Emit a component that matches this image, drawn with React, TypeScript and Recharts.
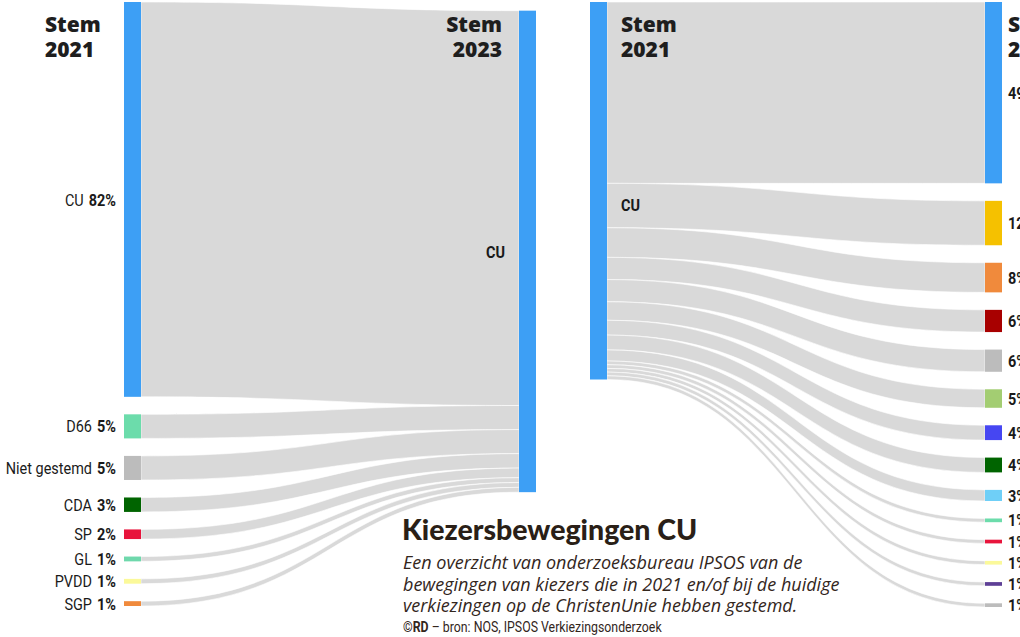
import React from "react";
import { Sankey } from "recharts";

// Stem 2021 -> CU in 2023 (left)
const herkomstPartijen = ["CU", "D66", "Niet gestemd", "CDA", "SP", "GL", "PVDD", "SGP"];
const herkomstPct = [82, 5, 5, 3, 2, 1, 1, 1];
const herkomstKleur = ["#3d9ff5", "#6cdcab", "#bcbcbc", "#006400", "#e8143c", "#6fd8ac", "#fbf99a", "#f08a3c"];

// CU 2021 -> Stem 2023 (right)
const bestemmingPartijen = ["CU", "NSC", "SGP", "GL-PvdA", "Niet gestemd", "BBB", "VVD", "CDA", "PVV", "D66", "SP", "PvdD", "Volt", "Overig"];
const bestemmingPct = [49, 12, 8, 6, 6, 5, 4, 4, 3, 1, 1, 1, 1, 1];
const bestemmingKleur = ["#3d9ff5", "#f5c100", "#f08a3c", "#a80000", "#bcbcbc", "#a3cd72", "#4646f2", "#006400", "#6fcff7", "#6cdcab", "#e8143c", "#fbf99a", "#5e3f96", "#bcbcbc"];

const FLOW = "#d9d9d9";
const NARROW = "Roboto, sans-serif";
const HEAD_FONT = "'Open Sans', sans-serif";

const linksData = {
  nodes: [...herkomstPartijen.map((name) => ({ name })), { name: "CU" }],
  links: herkomstPct.map((value, i) => ({ source: i, target: herkomstPartijen.length, value })),
};

const rechtsData = {
  nodes: [{ name: "CU" }, ...bestemmingPartijen.map((name) => ({ name }))],
  links: bestemmingPct.map((value, i) => ({ source: 0, target: i + 1, value })),
};

function Flow(props: any) {
  const { sourceX, targetX, sourceY, targetY, sourceControlX, targetControlX, linkWidth } = props;
  const h = linkWidth / 2;
  const d =
    `M${sourceX},${sourceY - h} C${sourceControlX},${sourceY - h} ${targetControlX},${targetY - h} ${targetX},${targetY - h} ` +
    `L${targetX},${targetY + h} C${targetControlX},${targetY + h} ${sourceControlX},${sourceY + h} ${sourceX},${sourceY + h} Z`;
  return <path d={d} fill={FLOW} stroke="#fff" strokeWidth={0.6} />;
}

// condensed look: squeeze the text horizontally
function Label({ x, y, anchor = "start", bold = false, children }: any) {
  return (
    <text
      transform={`translate(${x},${y}) scale(0.85,1)`}
      dy="0.36em"
      textAnchor={anchor}
      fontFamily={NARROW}
      fontSize={17}
      fontWeight={bold ? "bold" : "normal"}
      fill="#1a1a1a"
    >
      {children}
    </text>
  );
}

function LeftNode(props: any) {
  const { x, y, width, height, index, payload } = props;
  const cy = y + height / 2;
  if (payload.depth === 0) {
    return (
      <g>
        <rect x={x} y={y} width={width} height={height} fill={herkomstKleur[index]} />
        <Label x={x - 8} y={cy} anchor="end">
          {payload.name}
          <tspan dx={6} fontWeight="bold">{`${payload.value}%`}</tspan>
        </Label>
      </g>
    );
  }
  return (
    <g>
      <rect x={x} y={y} width={width} height={height} fill="#3d9ff5" />
      <Label x={x - 14} y={cy} anchor="end" bold>
        {payload.name}
      </Label>
    </g>
  );
}

function RightNode(props: any) {
  const { x, y, width, height, index, payload } = props;
  const cy = y + height / 2;
  if (payload.depth === 0) {
    return (
      <g>
        <rect x={x} y={y} width={width} height={height} fill="#3d9ff5" />
        <Label x={x + width + 14} y={cy + 14} bold>
          {payload.name}
        </Label>
      </g>
    );
  }
  return (
    <g>
      <rect x={x} y={y} width={width} height={height} fill={bestemmingKleur[index - 1]} />
      <Label x={x + width + 6} y={cy}>
        <tspan fontWeight="bold">{`${payload.value}%`}</tspan>
        <tspan dx={6}>{payload.name}</tspan>
      </Label>
    </g>
  );
}

const headStyle: React.CSSProperties = {
  position: "absolute",
  fontFamily: HEAD_FONT,
  fontWeight: 800,
  fontSize: 21,
  lineHeight: "25px",
  color: "#1e1e1e",
};

export default function App() {
  return (
    <div style={{ position: "absolute", left: 0, top: 0, width: 1020, height: 637, overflow: "hidden", background: "#fff" }}>
      <div style={{ position: "absolute", left: 0, top: 0 }}>
        <Sankey
          width={540}
          height={637}
          data={linksData}
          margin={{ top: 2, left: 124, right: 4, bottom: 31 }}
          nodeWidth={17}
          nodePadding={17.5}
          iterations={1}
          link={Flow}
          node={LeftNode}
        />
      </div>
      <div style={{ position: "absolute", left: 480, top: 0 }}>
        <Sankey
          width={540}
          height={637}
          data={rechtsData}
          margin={{ top: 2, left: 110, right: 18, bottom: 30 }}
          nodeWidth={17}
          nodePadding={17.5}
          iterations={0}
          link={Flow}
          node={RightNode}
        />
      </div>

      <div style={{ ...headStyle, left: 45, top: 12 }}>Stem<br />2021</div>
      <div style={{ ...headStyle, left: 400, top: 12, width: 102, textAlign: "right" }}>Stem<br />2023</div>
      <div style={{ ...headStyle, left: 621, top: 12 }}>Stem<br />2021</div>
      <div style={{ ...headStyle, left: 1008, top: 12 }}>Stem<br />2023</div>

      <div
        style={{
          position: "absolute",
          left: 402,
          top: 514,
          fontFamily: "Lato, sans-serif",
          fontWeight: 900,
          fontSize: 28.5,
          lineHeight: "30px",
          color: "#2a1f17",
          whiteSpace: "nowrap",
        }}
      >
        Kiezersbewegingen CU
      </div>
      <div
        style={{
          position: "absolute",
          left: 403,
          top: 552,
          fontFamily: "'Open Sans', sans-serif",
          fontStyle: "italic",
          fontSize: 18,
          lineHeight: "21.5px",
          color: "#33261c",
          whiteSpace: "nowrap",
        }}
      >
        Een overzicht van onderzoeksbureau IPSOS van de
        <br />
        bewegingen van kiezers die in 2021 en/of bij de huidige
        <br />
        verkiezingen op de ChristenUnie hebben gestemd.
      </div>
      <div
        style={{
          position: "absolute",
          left: 403,
          top: 619,
          fontFamily: NARROW,
          fontSize: 14.5,
          lineHeight: "18px",
          color: "#33261c",
          whiteSpace: "nowrap",
          transform: "scaleX(0.85)",
          transformOrigin: "left center",
        }}
      >
        <b>©RD</b> – bron: NOS, IPSOS Verkiezingsonderzoek
      </div>
    </div>
  );
}
